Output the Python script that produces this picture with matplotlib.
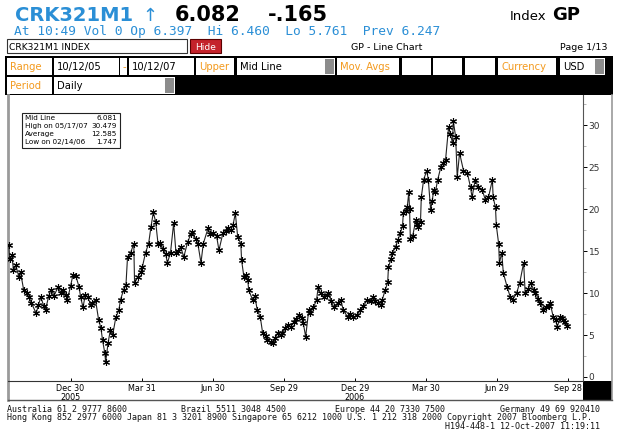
import numpy as np
import pandas as pd
import matplotlib
matplotlib.use('Agg')
import matplotlib.pyplot as plt
from matplotlib.patches import Rectangle

# series: days since 10/12/05 and index level
start = np.datetime64('2005-10-12')
day_offset = [0, 1, 4, 6, 9, 13, 15, 19, 23, 26, 29, 35, 38, 41, 45, 47, 51, 54, 58, 63,
              67, 69, 73, 75, 79, 82, 86, 90, 92, 95, 98, 101, 105, 107, 111, 115, 118, 120, 123, 124,
              127, 130, 133, 137, 141, 143, 147, 150, 152, 156, 160, 161, 165, 169, 171, 175, 179, 182, 185, 188,
              191, 194, 197, 201, 203, 207, 211, 214, 217, 220, 224, 229, 233, 235, 239, 242, 246, 249, 255, 258,
              262, 266, 269, 274, 278, 280, 284, 287, 290, 293, 297, 298, 301, 304, 306, 307, 312, 315, 318, 322,
              325, 329, 331, 335, 338, 341, 344, 348, 350, 354, 357, 361, 365, 368, 371, 375, 377, 380, 384, 386,
              390, 394, 396, 399, 403, 407, 409, 413, 416, 421, 425, 428, 434, 437, 441, 446, 450, 454, 459, 463,
              466, 469, 472, 476, 478, 482, 485, 486, 489, 491, 495, 498, 501, 504, 505, 508, 510, 512, 513, 514,
              517, 521, 523, 524, 527, 528, 531, 535, 537, 540, 542, 544, 546, 549, 553, 556, 559, 563, 565, 568,
              569, 572, 574, 577, 582, 587, 591, 593, 597, 601, 606, 610, 614, 619, 620, 623, 624, 627, 628, 631,
              633, 638, 642, 645, 650, 654, 659, 661, 665, 668, 672, 674, 678, 680, 684, 687, 691, 693, 697, 700,
              702, 706, 708, 710, 712, 715]
mid_line = [15.7, 14.0, 14.5, 12.7, 13.3, 11.9, 12.5, 10.4, 10.0, 9.5, 8.8, 7.6, 8.6, 9.5, 8.4, 8.0, 9.6, 10.4, 9.7, 10.7,
            10.0, 10.4, 9.8, 9.2, 10.8, 12.1, 12.0, 10.7, 9.5, 8.3, 9.8, 9.5, 8.6, 8.8, 9.2, 6.8, 5.8, 4.4, 2.8, 1.75,
            4.0, 5.6, 5.0, 7.1, 8.0, 9.2, 10.4, 11.0, 14.3, 14.8, 15.9, 11.2, 11.9, 12.5, 13.1, 14.8, 15.9, 17.9, 19.6, 18.5,
            15.9, 16.0, 15.3, 14.6, 13.6, 14.8, 18.3, 14.8, 15.0, 15.5, 14.3, 16.1, 17.0, 17.3, 16.5, 15.9, 13.6, 15.9, 17.7, 17.0,
            17.1, 16.8, 15.1, 17.1, 17.4, 17.7, 17.5, 18.1, 19.5, 16.7, 15.9, 13.9, 11.9, 12.2, 11.5, 10.4, 9.2, 9.6, 8.0, 7.1,
            5.2, 4.9, 4.4, 4.2, 4.0, 4.6, 5.2, 5.0, 5.2, 5.8, 6.2, 6.0, 6.5, 6.9, 7.4, 7.0, 6.4, 4.8, 8.0, 7.6,
            8.3, 9.2, 10.7, 10.0, 9.5, 9.8, 10.0, 9.0, 8.3, 8.8, 9.2, 8.0, 7.1, 7.5, 7.1, 7.4, 8.0, 8.5, 9.2, 9.0,
            9.5, 9.0, 8.8, 8.6, 9.2, 10.4, 11.3, 13.1, 14.0, 14.8, 15.5, 16.3, 17.1, 18.0, 19.5, 19.8, 20.2, 22.0, 20.0, 16.5,
            16.8, 18.7, 18.2, 17.9, 18.5, 21.4, 23.5, 24.6, 23.5, 19.9, 21.0, 22.3, 22.0, 23.5, 25.0, 25.5, 25.8, 29.8, 29.0, 27.9,
            30.48, 28.6, 23.8, 26.7, 24.6, 24.3, 22.6, 21.4, 23.5, 22.6, 22.3, 21.1, 21.4, 23.5, 21.4, 20.2, 18.1, 15.9, 13.6, 14.8,
            12.4, 10.7, 9.5, 9.2, 10.0, 11.2, 13.6, 10.0, 10.5, 11.2, 10.4, 10.0, 9.3, 8.8, 8.0, 8.3, 8.4, 8.8, 7.1, 6.8,
            6.0, 7.1, 7.0, 6.8, 6.5, 6.08]

tick_dates = ['2005-12-30', '2006-03-31', '2006-06-30', '2006-09-29',
              '2006-12-29', '2007-03-30', '2007-06-29', '2007-09-28']
tick_labels = ['Dec 30\n2005', 'Mar 31', 'Jun 30', 'Sep 29', 'Dec 29\n2006', 'Mar 30', 'Jun 29', 'Sep 28']
y_ticks = [0, 5, 10, 15, 20, 25, 30]

stats_names = ['Mid Line', 'High on 05/17/07', 'Average', 'Low on 02/14/06']
stats_values = ['6.081', '30.479', '12.585', '1.747']

BLUE = '#2b8fd6'
ORANGE = '#f39a1e'

fig = plt.figure(figsize=(6.2, 4.44), dpi=100)
bg = fig.add_axes([0, 0, 1, 1])
bg.set_xlim(0, 620)
bg.set_ylim(444, 0)
bg.axis('off')

# header
bg.text(15, 21, 'CRK321M1', color=BLUE, fontsize=14, fontweight='bold', family='DejaVu Sans')
bg.text(142, 21, '\u2191', color=BLUE, fontsize=13, family='DejaVu Sans')
bg.text(175, 21, '6.082', color='black', fontsize=15, fontweight='bold', family='DejaVu Sans')
bg.text(268, 21, '-.165', color='black', fontsize=15, fontweight='bold', family='DejaVu Sans')
bg.text(510, 20, 'Index', color='black', fontsize=9.5, family='DejaVu Sans')
bg.text(552, 20, 'GP', color='black', fontsize=13, fontweight='bold', family='DejaVu Sans')
bg.text(14, 35, 'At 10:49 Vol 0 Op 6.397  Hi 6.460  Lo 5.761  Prev 6.247', color=BLUE,
        fontsize=9.3, family='DejaVu Sans Mono')

# title row
bg.add_patch(Rectangle((7, 39), 180, 14, fc='white', ec='#333', lw=0.8))
bg.text(9, 50, 'CRK321M1 INDEX', fontsize=6.6, family='DejaVu Sans')
bg.add_patch(Rectangle((190, 39), 31, 14, fc='#c4222b', ec='#5a0000', lw=0.8))
bg.text(205.5, 49.5, 'Hide', fontsize=6.6, color='white', ha='center', family='DejaVu Sans')
bg.text(387, 50, 'GP - Line Chart', fontsize=6.8, ha='center', family='DejaVu Sans')
bg.text(607, 50, 'Page 1/13', fontsize=6.8, ha='right', family='DejaVu Sans')

# field rows
bg.add_patch(Rectangle((5, 56), 608, 39, fc='black', ec='none'))


def field(x0, x1, y0, y1, txt='', col='black', scroll=False):
    bg.add_patch(Rectangle((x0, y0), x1 - x0, y1 - y0, fc='white', ec='none'))
    if scroll:
        bg.add_patch(Rectangle((x1 - 10, y0 + 1), 9, y1 - y0 - 2, fc='#8c8c8c', ec='none'))
    if txt:
        bg.text(x0 + 3, y1 - 5, txt, fontsize=7.2, color=col, family='DejaVu Sans')


field(7, 52, 58, 75, 'Range', ORANGE)
field(54, 119, 58, 75, '10/12/05')
field(120, 127, 58, 75, '-', ORANGE)
field(129, 194, 58, 75, '10/12/07')
field(196, 234, 58, 75, 'Upper', ORANGE)
field(237, 335, 58, 75, 'Mid Line', scroll=True)
field(337, 399, 58, 75, 'Mov. Avgs', ORANGE)
field(402, 431, 58, 75)
field(433, 462, 58, 75)
field(465, 495, 58, 75)
field(498, 556, 58, 75, 'Currency', ORANGE)
field(560, 605, 58, 75, 'USD', scroll=True)
field(7, 52, 77, 94, 'Period', ORANGE)
field(54, 175, 77, 94, 'Daily', scroll=True)

# chart frame
bg.plot([8, 8], [95, 400], color='#9a9a9a', lw=2)
bg.plot([612, 612], [95, 400], color='#9a9a9a', lw=1.2)
bg.plot([8, 612], [400, 400], color='#555', lw=1)
bg.add_patch(Rectangle((583, 381), 29, 19, fc='black', ec='none'))

# stats box
bg.add_patch(Rectangle((22, 113), 98, 35, fc='white', ec='#222', lw=0.8))
for i, (n, v) in enumerate(zip(stats_names, stats_values)):
    bg.text(25, 120 + i * 8, n, fontsize=5.2, family='DejaVu Sans')
    bg.text(117, 120 + i * 8, v, fontsize=5.2, ha='right', family='DejaVu Sans')

# footer
fs = dict(fontsize=6.0, family='DejaVu Sans Mono', color='#111')
bg.text(7, 412, 'Australia 61 2 9777 8600', **fs)
bg.text(181, 412, 'Brazil 5511 3048 4500', **fs)
bg.text(335, 412, 'Europe 44 20 7330 7500', **fs)
bg.text(600, 412, 'Germany 49 69 920410', ha='right', **fs)
bg.text(7, 420, 'Hong Kong 852 2977 6000 Japan 81 3 3201 8900 Singapore 65 6212 1000 U.S. 1 212 318 2000 '
        'Copyright 2007 Bloomberg L.P.', **fs)
bg.text(600, 428.5, 'H194-448-1 12-Oct-2007 11:19:11', ha='right', **fs)

# main chart
ax = fig.add_axes([8 / 620, 1 - 381 / 444, 575 / 620, 286 / 444])
ax.patch.set_alpha(0)
dates = start + np.array(day_offset).astype('timedelta64[D]')
ax.plot(dates, mid_line, color='#222', lw=0.8, marker=(6, 2, 0), ms=5, mew=0.8, mec='black')
ax.set_xlim(start - np.timedelta64(1, 'D'), start + np.timedelta64(735, 'D'))
ax.set_ylim(-0.48, 33.6)
ax.set_xticks(np.array(tick_dates, dtype='datetime64[D]'))
ax.set_xticklabels(tick_labels, fontsize=5.8, linespacing=1.1)
ax.yaxis.tick_right()
ax.set_yticks(y_ticks)
ax.set_yticklabels([str(t) for t in y_ticks], fontsize=6.5, color='#333')
ax.set_yticks(np.arange(2.5, 33, 5), minor=True)
ax.tick_params(axis='y', which='major', direction='out', length=3, width=0.7, pad=1)
ax.tick_params(axis='y', which='minor', direction='out', length=2, width=0.5, colors='#999')
ax.tick_params(axis='x', direction='in', length=2, width=0.7, pad=2)
for s in ['top', 'left']:
    ax.spines[s].set_visible(False)
ax.spines['right'].set_color('#555')
ax.spines['bottom'].set_color('#333')

fig.savefig('out.png', dpi=100)
